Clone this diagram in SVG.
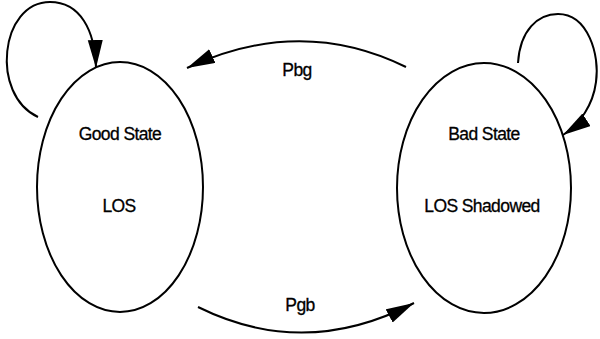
<svg xmlns="http://www.w3.org/2000/svg" width="600" height="339" viewBox="0 0 600 339">
<style>
.node{fill:#fff;stroke:#000;stroke-width:2}
.edge{fill:none;stroke:#000;stroke-width:2}
text{font-family:"Liberation Sans",Arial,sans-serif;font-size:17.5px;fill:#000;stroke:#000;stroke-width:0.3;text-anchor:middle;letter-spacing:-0.6px}
</style>
<defs>
<marker id="ah" markerUnits="userSpaceOnUse" markerWidth="30" markerHeight="16" refX="28" refY="7.5" orient="auto">
<path d="M0,0 L28,7.5 L0,15 z" fill="#000"/>
</marker>
</defs>
<rect width="600" height="339" fill="#fff"/>
<g id="good">
<ellipse class="node" cx="120" cy="187" rx="83" ry="125"/>
<text x="120" y="140">Good State</text>
<text x="119" y="212">LOS</text>
</g>
<g id="bad">
<ellipse class="node" cx="484" cy="188" rx="87" ry="125"/>
<text x="484" y="140">Bad State</text>
<text x="482" y="212">LOS Shadowed</text>
</g>
<g id="connectors">
<path class="edge" d="M406,67 Q300,15 187,68" marker-end="url(#ah)"/>
<path class="edge" d="M198,307 Q305,360 414,303" marker-end="url(#ah)"/>
<path class="edge" d="M38,117 C-10,95 0,2 50,2 C80,2 95,30 96,68" marker-end="url(#ah)"/>
<path class="edge" d="M518,63 C520,30 538,14 558,14 C588,14 600,55 596,82 C593,105 580,124 563,135" marker-end="url(#ah)"/>
<text x="297" y="76">Pbg</text>
<text x="300" y="311">Pgb</text>
</g>
</svg>
